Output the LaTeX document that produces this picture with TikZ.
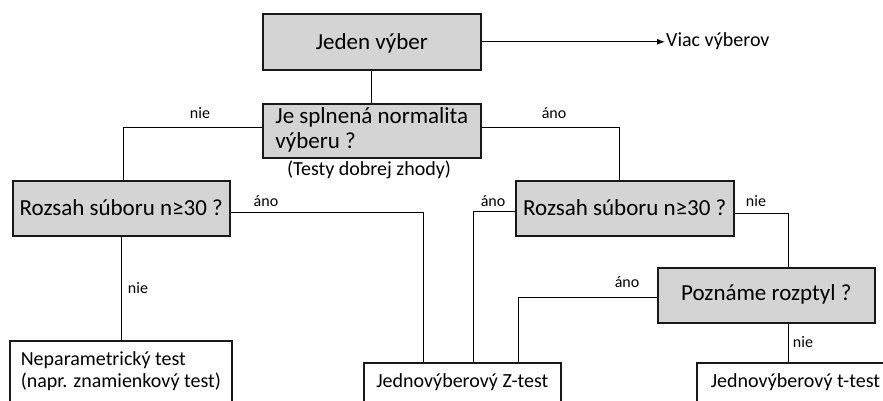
\documentclass[tikz,border=0pt]{standalone}
\usepackage{fontspec}
\setmainfont{Carlito}
\usetikzlibrary{arrows.meta,positioning}

\begin{document}
\begin{tikzpicture}[x=1pt,y=-1pt,
  graybox/.style={draw=black!90,line width=1.6pt,fill=black!17,anchor=north west,inner sep=0pt,font=\fontsize{23}{25}\selectfont},
  whitebox/.style={draw=black!90,line width=1.6pt,fill=white,anchor=north west,inner xsep=11pt,inner ysep=10pt,text height=15pt,text depth=40pt,font=\fontsize{20}{22}\selectfont},
  lbl/.style={anchor=base,inner sep=0pt,font=\fontsize{16}{18}\selectfont},
  link/.style={line width=1pt}]
  \clip (0,0) rectangle (883,401);

  % otazky
  \node[graybox, minimum width=218, minimum height=56, text height=18pt, text depth=2pt] (jeden) at (262,13) {Jeden výber};
  \node[graybox, minimum width=218, minimum height=54, text height=40pt, text depth=4pt, align=left] (norm) at (262,103) {Je splnená normalita\\výberu ?};
  \node[graybox, minimum width=217, minimum height=55, text height=18pt, text depth=3pt] (rozL) at (12,180) {Rozsah súboru n≥30 ?};
  \node[graybox, minimum width=218, minimum height=55, text height=18pt, text depth=3pt] (rozP) at (515,180) {Rozsah súboru n≥30 ?};
  \node[graybox, minimum width=217, minimum height=55, text height=17pt, text depth=6pt] (rozptyl) at (657,267) {Poznáme rozptyl ?};

  % testy
  \node[whitebox, minimum width=219, text height=37pt, align=left] (nepar) at (9,340) {Neparametrický test\\(napr. znamienkový test)};
  \node[whitebox, minimum width=197] (ztest) at (363,362) {Jednovýberový Z-test};
  \node[whitebox, inner xsep=14pt] (ttest) at (696,362) {Jednovýberový t-test};

  \node[lbl, anchor=base west, inner sep=1pt, font=\fontsize{20}{22}\selectfont] (viac) at (665,47) {Viac výberov};
  \node[lbl, font=\fontsize{20}{22}\selectfont] (zhoda) at (369,175) {(Testy dobrej zhody)};

  % spojnice
  \draw[link] (jeden.south) -- (norm.north);
  \draw[link, -{Latex[length=8pt,width=6pt]}] (jeden.east) -- (jeden.east -| viac.west);
  \draw[link] ([yshift=3pt]norm.west) -| ([xshift=2.5pt]rozL.north);
  \draw[link] ([yshift=3pt]norm.east) -| ([xshift=-5pt]rozP.north);
  \draw[link] (rozL.south) -- (rozL.south |- nepar.north);
  \draw[link] ([yshift=-4.5pt]rozL.east) -| ([xshift=-38.5pt]ztest.north);
  \draw[link] ([yshift=-3.5pt]rozP.west) -| ([xshift=11.5pt]ztest.north);
  \draw[link] ([yshift=-5.5pt]rozP.east) -| ([xshift=22.5pt]rozptyl.north);
  \draw[link] ([yshift=-2.5pt]rozptyl.west) -| ([xshift=56.5pt]ztest.north);
  \draw[link] ([xshift=22.5pt]rozptyl.south) -- ([xshift=22.5pt]rozptyl.south |- ttest.north);

  % popisy vetiev
  \node[lbl] (n1) at (200,119) {nie};
  \node[lbl] (a1) at (554,119) {áno};
  \node[lbl] (a2) at (266,206) {áno};
  \node[lbl] (a3) at (493,206) {áno};
  \node[lbl] (n2) at (756,206) {nie};
  \node[lbl] (n3) at (138,293) {nie};
  \node[lbl] (a4) at (627,287) {áno};
  \node[lbl] (n4) at (803,347) {nie};
\end{tikzpicture}
\end{document}
